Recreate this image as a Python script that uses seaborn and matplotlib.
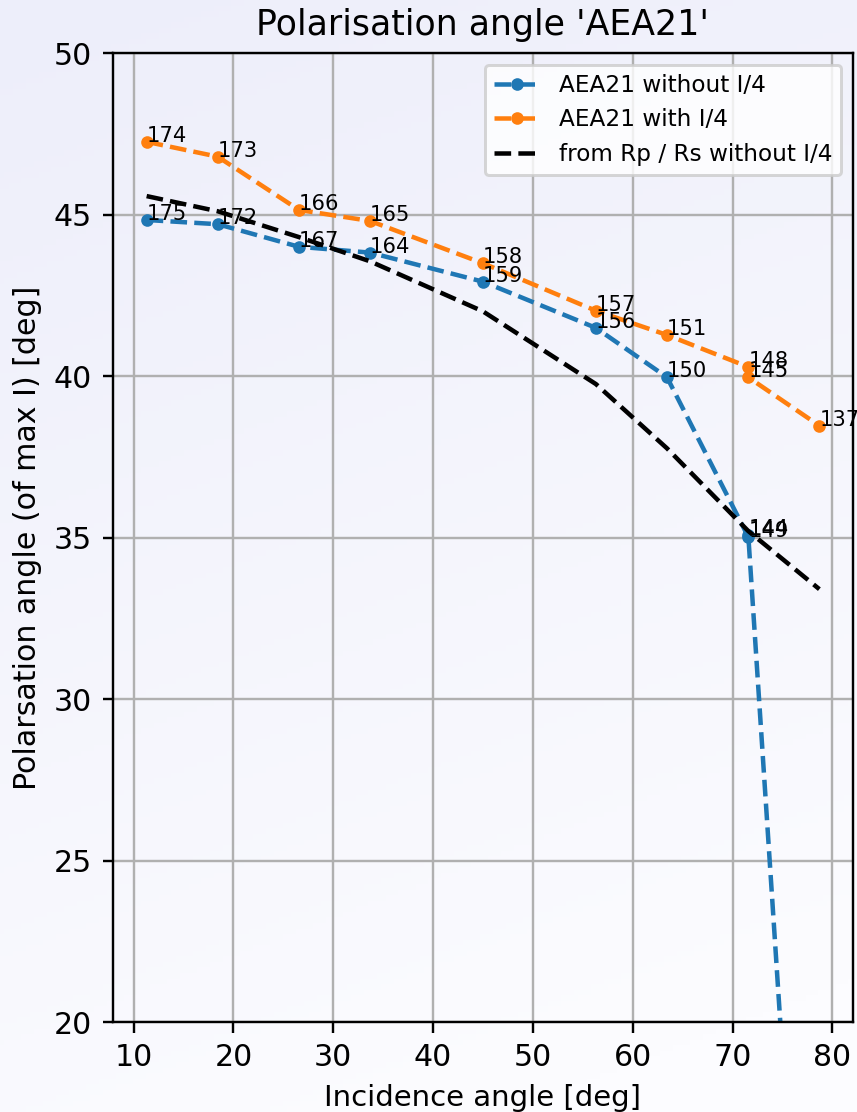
import numpy as np
import pandas as pd
import matplotlib
matplotlib.use("Agg")
import matplotlib.pyplot as plt
import seaborn as sns

# Incidence angles [deg] of the measurements
incidence = [11.31, 18.43, 26.57, 33.69, 45.00, 56.31, 63.43, 71.57, 71.57, 78.69]

# Polarisation angle of maximum intensity, without quarter-wave plate
angle_without = [44.83, 44.70, 44.00, 43.82, 42.92, 41.49, 39.96, 35.02, 35.07, 1.60]
labels_without = ["175", "172", "167", "164", "159", "156", "150", "149", "144", "138"]

# Polarisation angle of maximum intensity, with quarter-wave plate
angle_with = [47.25, 46.79, 45.14, 44.80, 43.49, 42.02, 41.27, 40.28, 39.96, 38.46]
labels_with = ["174", "173", "166", "165", "158", "157", "151", "148", "145", "137"]

# Angle derived from the reflectance ratio Rp / Rs
rprs_incidence = [11.31, 18.43, 26.57, 33.69, 45.00, 56.31, 63.43, 71.57, 78.69]
rprs_angle = [45.57, 45.10, 44.30, 43.55, 42.00, 39.75, 37.76, 35.20, 33.40]

DPI = 216
sns.set_style("ticks")
plt.rcParams.update({
    "font.family": ["DejaVu Sans"],
    "axes.edgecolor": "black",
    "axes.linewidth": 0.8,
    "grid.color": "#b0b0b0",
    "grid.linewidth": 0.8,
    "xtick.color": "black",
    "ytick.color": "black",
    "text.color": "black",
    "axes.labelcolor": "black",
})

fig = plt.figure(figsize=(857 / DPI, 1112 / DPI), dpi=DPI)

# soft lavender-to-white background
bg = fig.add_axes([0, 0, 1, 1], zorder=-10)
yy, xx = np.mgrid[0:1:200j, 0:1:200j]
t = np.clip(0.85 * yy + 0.25 * xx, 0, 1)
top = np.array([237, 238, 250]) / 255
bottom = np.array([252, 252, 255]) / 255
img = top[None, None, :] * (1 - t[..., None]) + bottom[None, None, :] * t[..., None]
bg.imshow(img, aspect="auto", extent=[0, 1, 0, 1], origin="upper")
bg.set_axis_off()

ax = fig.add_axes([113 / 857, 1 - 1022 / 1112, 740 / 857, 969 / 1112])
ax.set_facecolor("none")

df_without = pd.DataFrame({"x": incidence, "y": angle_without})
df_with = pd.DataFrame({"x": incidence, "y": angle_with})
df_rprs = pd.DataFrame({"x": rprs_incidence, "y": rprs_angle})

blue, orange = "#1f77b4", "#ff7f0e"
sns.lineplot(data=df_without, x="x", y="y", ax=ax, sort=False, estimator=None,
             color=blue, linestyle="--", marker="o", markersize=4.2,
             markeredgecolor=blue, markeredgewidth=0, linewidth=1.5,
             label="AEA21 without I/4")
sns.lineplot(data=df_with, x="x", y="y", ax=ax, sort=False, estimator=None,
             color=orange, linestyle="--", marker="o", markersize=4.2,
             markeredgecolor=orange, markeredgewidth=0, linewidth=1.5,
             label="AEA21 with I/4")
sns.lineplot(data=df_rprs, x="x", y="y", ax=ax, sort=False, estimator=None,
             color="black", linestyle="--", linewidth=1.5,
             label="from Rp / Rs without I/4")

for xv, yv, s in zip(incidence, angle_without, labels_without):
    ax.text(xv, yv, s, fontsize=7)
for xv, yv, s in zip(incidence, angle_with, labels_with):
    ax.text(xv, yv, s, fontsize=7)

ax.set_ylim(20, 50)
ax.grid(True)
ax.set_xlabel("Incidence angle [deg]", fontsize=9.7)
ax.set_ylabel("Polarsation angle (of max I) [deg]", fontsize=10)
ax.set_title("Polarisation angle 'AEA21'", fontsize=11.6)
ax.tick_params(labelsize=10, length=3.5, width=0.8)
leg = ax.legend(loc="upper right", fontsize=7.7)

fig.savefig("out.png", dpi=DPI)
